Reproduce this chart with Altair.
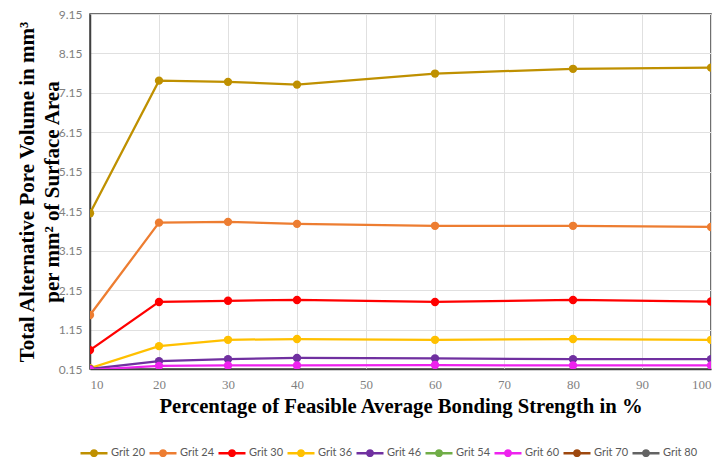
import altair as alt
import pandas as pd

x_vals = [10, 20, 30, 40, 60, 80, 100]
series_names = ["Grit 20", "Grit 24", "Grit 30", "Grit 36", "Grit 46",
                "Grit 54", "Grit 60", "Grit 70", "Grit 80"]
grit20 = [4.10, 7.46, 7.43, 7.36, 7.64, 7.76, 7.79]
grit24 = [1.52, 3.86, 3.88, 3.83, 3.78, 3.78, 3.75]
grit30 = [0.63, 1.85, 1.88, 1.90, 1.85, 1.90, 1.86]
grit36 = [0.17, 0.73, 0.89, 0.91, 0.89, 0.91, 0.89]
grit46 = [0.15, 0.35, 0.40, 0.43, 0.42, 0.40, 0.40]
grit54 = [0.05, 0.06, 0.06, 0.06, 0.06, 0.06, 0.06]
grit60 = [0.13, 0.23, 0.24, 0.24, 0.25, 0.24, 0.24]
grit70 = [0.03, 0.04, 0.04, 0.04, 0.04, 0.04, 0.04]
grit80 = [0.02, 0.02, 0.02, 0.02, 0.02, 0.02, 0.02]
colors = ["#BF9000", "#ED7D31", "#FF0000", "#FFC000", "#7030A0",
          "#70AD47", "#EE22EE", "#9E480E", "#636363"]
y_ticks = [0.15, 1.15, 2.15, 3.15, 4.15, 5.15, 6.15, 7.15, 8.15, 9.15]
x_ticks = [10, 20, 30, 40, 50, 60, 70, 80, 90, 100]

all_series = [grit20, grit24, grit30, grit36, grit46, grit54, grit60, grit70, grit80]
rows = []
for name, vals in zip(series_names, all_series):
    for xv, yv in zip(x_vals, vals):
        rows.append({"x": xv, "y": yv, "series": name})
df = pd.DataFrame(rows)

sym = ("M-1,0L1,0M-0.2,0A0.2,0.2,0,1,0,0.2,0A0.2,0.2,0,1,0,-0.2,0"
       "M-0.08,0A0.08,0.08,0,1,0,0.08,0A0.08,0.08,0,1,0,-0.08,0")

chart = alt.Chart(df).mark_line(
    strokeWidth=2.25, clip=True,
    point=alt.OverlayMarkDef(filled=True, size=70, opacity=1, clip=True)
).encode(
    x=alt.X("x:Q", scale=alt.Scale(domain=[10, 100], nice=False),
            axis=alt.Axis(values=x_ticks, title="Percentage of Feasible Average Bonding Strength in %",
                          labelFont="Liberation Serif", labelFontSize=13, labelColor="#7F7F7F",
                          labelPadding=9, titleFont="Liberation Serif", titleFontSize=20.7,
                          titleFontWeight="bold", titleColor="#000000", titlePadding=5,
                          ticks=False, domainColor="#404040", domainWidth=1.5,
                          gridColor="#E0E0E0")),
    y=alt.Y("y:Q", scale=alt.Scale(domain=[0.15, 9.15], nice=False, zero=False),
            axis=alt.Axis(values=y_ticks, format=".2f",
                          title=["Total Alternative Pore Volume in mm\u00b3", "per mm\u00b2 of Surface Area"],
                          labelFont="Lato", labelFontSize=12, labelColor="#7F7F7F",
                          labelPadding=8, titleFont="Liberation Serif", titleFontSize=21,
                          titleFontWeight="bold", titleColor="#000000", titlePadding=-4,
                          titleLineHeight=25,
                          ticks=False, domainColor="#404040", domainWidth=1.5,
                          gridColor="#E0E0E0")),
    color=alt.Color("series:N", scale=alt.Scale(domain=series_names, range=colors),
                    legend=alt.Legend(title=None, orient="none", direction="horizontal",
                                      columns=9, legendX=-11, legendY=424,
                                      symbolType=sym, symbolSize=729, symbolStrokeWidth=2.5,
                                      labelFont="Lato", labelFontSize=11, labelColor="#595959",
                                      columnPadding=-2, symbolOffset=0, labelOffset=2, padding=0)),
    order=alt.Order("x:Q"),
).properties(
    width=621, height=355,
    autosize=alt.AutoSizeParams(type="none"),
    padding={"left": 82, "top": 6, "right": 1, "bottom": 88},
).configure_view(
    stroke="#404040", strokeWidth=1.5
)

chart.save("out.html", embed_options={"renderer": "svg", "actions": False})
